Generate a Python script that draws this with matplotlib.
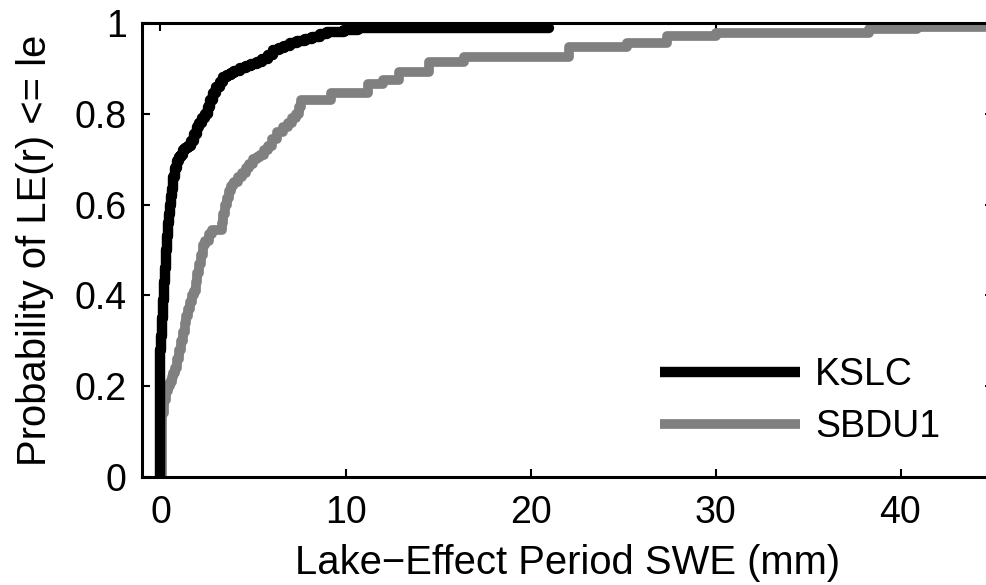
import matplotlib
matplotlib.use('Agg')
import matplotlib.pyplot as plt

# CDF breakpoints (value, cumulative probability)
kslc_swe = [0.0, 0.0, 0.05, 0.1, 0.15, 0.2, 0.25, 0.3, 0.35, 0.4,
            0.45, 0.5, 0.55, 0.6, 0.65, 0.7, 0.8, 0.9, 1.0, 1.1,
            1.2, 1.35, 1.5, 1.65, 1.8, 1.95, 2.1, 2.25, 2.4, 2.55,
            2.7, 2.85, 3.0, 3.2, 3.4, 3.6, 3.8, 4.0, 4.3, 4.6,
            4.9, 5.2, 5.5, 5.8, 6.1, 6.4, 6.7, 7.0, 7.4, 7.8,
            8.2, 8.6, 9.0, 9.9, 10.7, 21.0]
kslc_cdf = [0.0, 0.28, 0.31, 0.35, 0.39, 0.43, 0.46, 0.50, 0.53, 0.56,
            0.58, 0.60, 0.62, 0.635, 0.65, 0.66, 0.68, 0.695, 0.705, 0.71,
            0.72, 0.725, 0.73, 0.74, 0.755, 0.77, 0.78, 0.79, 0.80, 0.815,
            0.83, 0.845, 0.86, 0.87, 0.88, 0.885, 0.89, 0.895, 0.90, 0.905,
            0.91, 0.915, 0.92, 0.93, 0.94, 0.945, 0.95, 0.955, 0.96, 0.965,
            0.97, 0.975, 0.98, 0.985, 0.99, 0.99]

sbdu_swe = [0.0, 0.1, 0.2, 0.3, 0.4, 0.5, 0.6, 0.7, 0.8, 0.9, 1.0,
            1.1, 1.2, 1.3, 1.4, 1.5, 1.6, 1.7, 1.8, 1.9, 2.0,
            2.1, 2.2, 2.3, 2.4, 2.6, 2.8, 3.3, 3.4, 3.5, 3.6,
            3.7, 3.8, 3.9, 4.0, 4.2, 4.4, 4.6, 4.8, 5.0, 5.2,
            5.4, 5.6, 5.8, 6.0, 6.3, 6.6, 6.9, 7.1, 7.3, 7.5,
            7.6, 9.2, 11.2, 12.0, 12.9, 14.5, 16.4, 22.1, 25.2, 27.4,
            30.0, 38.3, 40.9, 46.0]
sbdu_cdf = [0.0, 0.14, 0.17, 0.19, 0.20, 0.21, 0.22, 0.23, 0.24, 0.26, 0.28,
            0.30, 0.32, 0.34, 0.355, 0.37, 0.385, 0.40, 0.41, 0.43, 0.45,
            0.47, 0.49, 0.51, 0.52, 0.535, 0.545, 0.56, 0.58, 0.60, 0.615,
            0.63, 0.64, 0.645, 0.65, 0.66, 0.67, 0.68, 0.69, 0.70, 0.705,
            0.71, 0.72, 0.73, 0.745, 0.76, 0.77, 0.78, 0.79, 0.80, 0.815,
            0.83, 0.845, 0.865, 0.875, 0.892, 0.914, 0.925, 0.947, 0.956, 0.971,
            0.978, 0.987, 0.991, 0.991]

x_ticks = [0, 10, 20, 30, 40]
y_ticks = [0, 0.2, 0.4, 0.6, 0.8, 1]
y_labels = ['0', '0.2', '0.4', '0.6', '0.8', '1']

plt.rcParams['font.family'] = ['Liberation Sans', 'DejaVu Sans']
plt.rcParams['font.size'] = 27

fig = plt.figure(figsize=(9.87, 5.85), dpi=100)
ax = fig.add_axes([142/987, 108/585, 851/987, 454/585])

ax.plot(kslc_swe, kslc_cdf, drawstyle='steps-post', color='black', lw=7.5,
        label='KSLC', zorder=3, solid_joinstyle='round', solid_capstyle='round')
ax.plot(sbdu_swe, sbdu_cdf, drawstyle='steps-post', color='#808080', lw=7,
        label='SBDU1', zorder=2, solid_joinstyle='round', solid_capstyle='round')

ax.set_xlim(-1, 45)
ax.set_ylim(0, 1)
ax.set_xticks(x_ticks)
ax.set_yticks(y_ticks)
ax.set_yticklabels(y_labels)
ax.tick_params(direction='in', length=6, width=1.5, top=True, right=True)
ax.tick_params(axis='x', pad=13)
ax.tick_params(axis='y', pad=11)
for s in ax.spines.values():
    s.set_linewidth(2.2)

ax.set_xlabel('Lake\u2212Effect Period SWE (mm)', fontsize=28.8, labelpad=9.5)
ax.set_ylabel('Probability of LE(r) <= le', fontsize=28.8, labelpad=15)

leg = ax.legend(loc='upper left', bbox_to_anchor=(660/987, (585-357)/585),
                bbox_transform=fig.transFigure, frameon=False, borderpad=0,
                borderaxespad=0, handlelength=3.73, handletextpad=0.4,
                labelspacing=0.42)
for h in leg.get_lines():
    h.set_solid_capstyle('butt')

fig.savefig('out.png', dpi=100)
